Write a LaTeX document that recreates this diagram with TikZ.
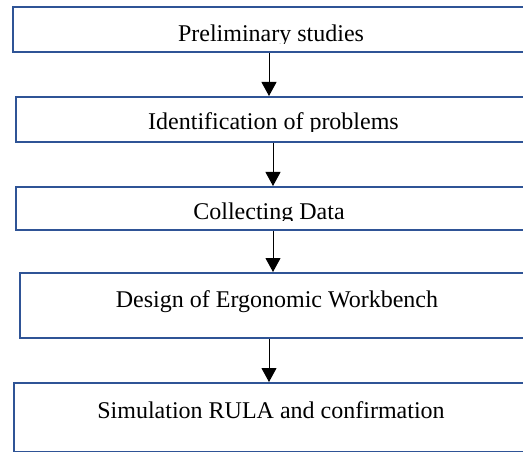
\documentclass[tikz,border=0pt]{standalone}
\usepackage{fontspec}
\setmainfont{Liberation Serif}
\usetikzlibrary{arrows.meta}
\definecolor{boxblue}{RGB}{47,84,150}
\tikzset{
  stepbox/.style={draw=boxblue, line width=2pt, anchor=north west, inner sep=0pt},
  steptext/.style={anchor=base, inner sep=0pt, font=\fontsize{24}{28}\selectfont},
  flow/.style={-{Triangle[width=15pt,length=14pt]}, line width=1pt}
}
\begin{document}
\begin{tikzpicture}[x=1pt, y=-1pt]
    \useasboundingbox (0,0) rectangle (523,452);
    \clip (0,0) rectangle (523,452);
    \coordinate (colA) at (269,0);
    \coordinate (colB) at (273,0);

    % boxes (right side runs off the page)
    \node[stepbox, minimum width=518pt, minimum height=45pt] (b1) at (12,6) {};
    \node[stepbox, minimum width=515pt, minimum height=45pt] (b2) at (15,96) {};
    \node[stepbox, minimum width=515pt, minimum height=43pt] (b3) at (15,186) {};
    \node[stepbox, minimum width=511pt, minimum height=65pt] (b4) at (19,272) {};
    \node[stepbox, minimum width=517pt, minimum height=69pt] (b5) at (13,382) {};

    % labels (descenders cut as in the original)
    \begin{scope}
      \clip (0,0) rectangle (523,43.5);
      \node[steptext] (t1) at (271,42) {Preliminary studies};
    \end{scope}
    \begin{scope}
      \clip (0,100) rectangle (523,131.5);
      \node[steptext] (t2) at (273.5,130) {Identification of problems};
    \end{scope}
    \begin{scope}
      \clip (0,190) rectangle (523,220.5);
      \node[steptext] (t3) at (269,219) {Collecting Data};
    \end{scope}
    \node[steptext] (t4) at (277,307) {Design of Ergonomic Workbench};
    \node[steptext] (t5) at (271,418) {Simulation RULA and confirmation};

    % arrows
    \draw[flow] (b1.south -| colA) -- (b2.north -| colA);
    \draw[flow] (b2.south -| colB) -- (b3.north -| colB);
    \draw[flow] (b3.south -| colB) -- (b4.north -| colB);
    \draw[flow] (b4.south -| colA) -- (b5.north -| colA);
\end{tikzpicture}
\end{document}
